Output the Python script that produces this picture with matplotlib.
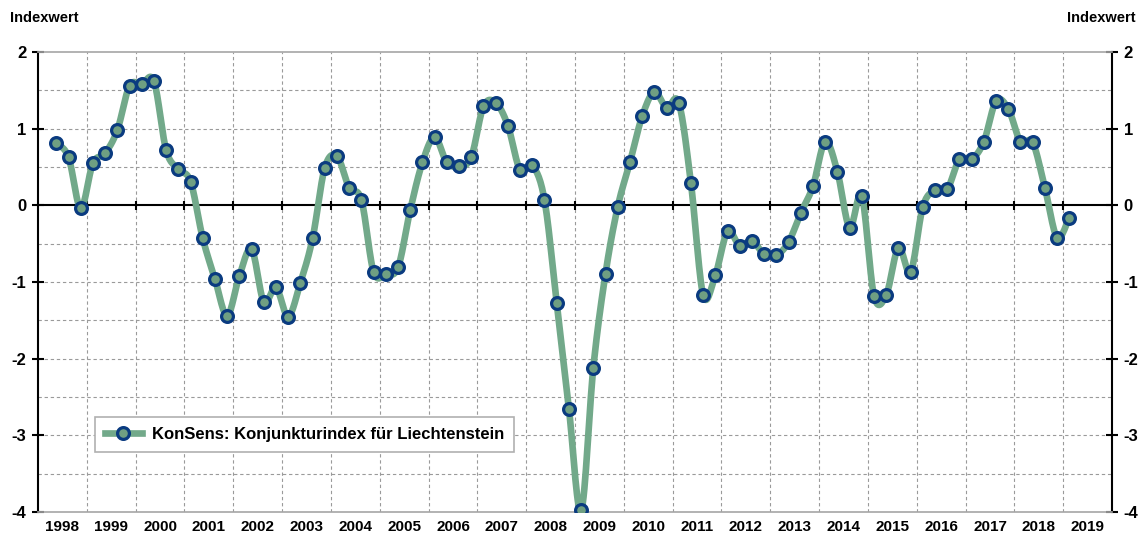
import matplotlib

matplotlib.use("Agg")
import matplotlib.pyplot as plt  # noqa: E402
import numpy as np  # noqa: E402
from matplotlib.lines import Line2D  # noqa: E402

plt.rcParams["font.family"] = ["Liberation Sans", "DejaVu Sans"]
plt.rcParams["font.weight"] = "bold"

# quarterly index, 1998 Q2 .. 2019 Q1
FIRST_YEAR = 1998
FIRST_QUARTER = 2
konsens = [
    0.81, 0.63, -0.04, 0.55, 0.68, 0.98, 1.56, 1.58, 1.62, 0.72, 0.47, 0.31,
    -0.43, -0.96, -1.44, -0.92, -0.57, -1.26, -1.07, -1.45, -1.01, -0.43, 0.49, 0.64,
    0.23, 0.07, -0.87, -0.90, -0.81, -0.06, 0.56, 0.89, 0.56, 0.51, 0.63, 1.29,
    1.34, 1.04, 0.46, 0.52, 0.07, -1.27, -2.65, -3.98, -2.12, -0.89, -0.02, 0.56,
    1.16, 1.48, 1.27, 1.34, 0.29, -1.17, -0.91, -0.34, -0.53, -0.46, -0.64, -0.65,
    -0.48, -0.10, 0.25, 0.83, 0.44, -0.29, 0.12, -1.18, -1.17, -0.55, -0.87, -0.02,
    0.20, 0.21, 0.60, 0.60, 0.83, 1.36, 1.26, 0.83, 0.82, 0.23, -0.42, -0.16,
]
years = list(range(1998, 2020))
yticks = [-4, -3, -2, -1, 0, 1, 2]
legend_label = "KonSens: Konjunkturindex für Liechtenstein"
unit_label = "Indexwert"

LINE = "#72a98a"
FACE = "#6f9f82"
EDGE = "#0a3b80"


def smooth(x, y, n=16):
    """Excel-style smoothed line (uniform Catmull-Rom as cubic Bezier)."""
    p = np.column_stack([x, y])
    p = np.vstack([p[0], p, p[-1]])
    t = np.linspace(0, 1, n)[:, None]
    out = []
    for i in range(1, len(p) - 2):
        p0, p1, p2, p3 = p[i - 1], p[i], p[i + 1], p[i + 2]
        c1 = p1 + (p2 - p0) / 6
        c2 = p2 - (p3 - p1) / 6
        seg = ((1 - t) ** 3) * p1 + 3 * ((1 - t) ** 2) * t * c1 + 3 * (1 - t) * t ** 2 * c2 + t ** 3 * p2
        out.append(seg if i == 1 else seg[1:])
    seg = np.vstack(out)
    return seg[:, 0], seg[:, 1]


x = FIRST_YEAR + (np.arange(len(konsens)) + FIRST_QUARTER - 0.5) / 4
y = np.array(konsens)

fig = plt.figure(figsize=(11.45, 5.36), dpi=100)
ax = fig.add_axes([38 / 1145, 1 - 512 / 536, (1112 - 38) / 1145, (512 - 52) / 536])

xmin, xmax = years[0], years[-1] + 1
ax.set_xlim(xmin, xmax)
ax.set_ylim(-4, 2)

# grid
for v in np.arange(-3.5, 2, 0.5):
    if v != 0:
        ax.axhline(v, color="#9a9a9a", lw=0.8, ls=(0, (3, 2.5)), zorder=1)
for yr in years[1:]:
    ax.axvline(yr, color="#9a9a9a", lw=0.8, ls=(0, (3, 2.5)), zorder=1)

# zero line with year ticks
ax.axhline(0, color="black", lw=1.5, zorder=2)
ax.vlines(years[1:], -0.06, 0.06, color="black", lw=1.5, zorder=2)

sx, sy = smooth(x, y)
ax.plot(sx, sy, color=LINE, lw=4.8, solid_capstyle="round", solid_joinstyle="round", zorder=3)
ax.plot(x, y, ls="none", marker="o", ms=8.5, mfc=FACE, mec=EDGE, mew=2.3, zorder=4)

for side in ("top", "bottom"):
    ax.spines[side].set_color("#a6a6a6")
    ax.spines[side].set_linewidth(1.2)
for side in ("left", "right"):
    ax.spines[side].set_color("black")
    ax.spines[side].set_linewidth(1.5)

ax.set_yticks(yticks)
ax.set_yticklabels([str(v) for v in yticks])
ax.tick_params(axis="y", which="major", direction="inout", length=9, width=1.5,
               labelsize=12, left=True, right=True, labelleft=True, labelright=True, pad=4)
ax.set_xticks([])
ax.set_xticks([yr + 0.5 for yr in years], minor=True)
ax.set_xticklabels([str(yr) for yr in years], minor=True)
ax.tick_params(axis="x", which="minor", length=0, labelsize=11, pad=6)
for lab in ax.get_yticklabels() + ax.get_xticklabels(minor=True):
    lab.set_fontweight("bold")

fig.text(10 / 1145, 1 - 18 / 536, unit_label, fontsize=10.5, fontweight="bold", va="center", ha="left")
fig.text(1135 / 1145, 1 - 18 / 536, unit_label, fontsize=10.5, fontweight="bold", va="center", ha="right")

handle = Line2D([], [], color=LINE, lw=4.8, marker="o", ms=8.5, mfc=FACE, mec=EDGE, mew=2.3)
leg = ax.legend([handle], [legend_label], loc="lower left", bbox_to_anchor=(57 / 1074, 60 / 460),
                frameon=True, fancybox=False, framealpha=1, edgecolor="#b0b0b0",
                prop={"size": 12, "weight": "bold"}, handlelength=2.2, borderpad=0.6,
                handletextpad=0.6, borderaxespad=0)
leg.get_frame().set_linewidth(1.2)
leg.set_zorder(5)

fig.savefig("out.png", dpi=100)
